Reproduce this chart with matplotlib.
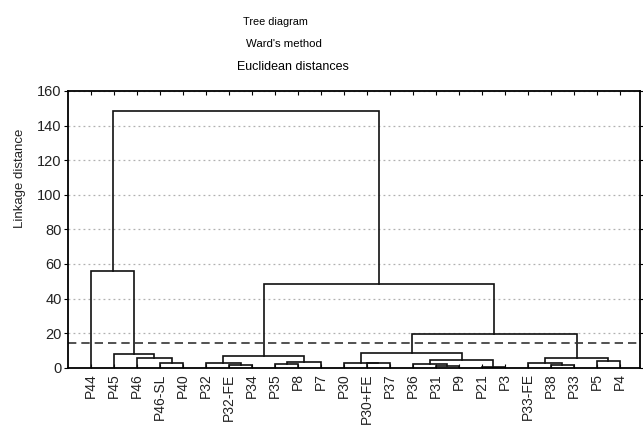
import matplotlib
matplotlib.use('Agg')
import matplotlib.pyplot as plt

plt.rcParams['font.family'] = ['Liberation Sans', 'DejaVu Sans']

# leaf labels in dendrogram order
labels = ['P44', 'P45', 'P46', 'P46-SL', 'P40', 'P32', 'P32-FE', 'P34', 'P35', 'P8',
          'P7', 'P30', 'P30+FE', 'P37', 'P36', 'P31', 'P9', 'P21', 'P3', 'P33-FE',
          'P38', 'P33', 'P5', 'P4']

# merges: ids >= 24 refer to earlier merges (24 = first row, ...)
merge_left = [17, 15, 6, 20, 8, 14, 5, 3, 12, 11, 19, 28, 22, 29, 2, 34, 30, 1, 33, 42, 0, 40, 44]
merge_right = [18, 16, 7, 21, 9, 25, 26, 4, 13, 32, 27, 10, 23, 24, 31, 36, 35, 38, 37, 39, 41, 43, 45]
merge_height = [0.4, 1.2, 1.4, 1.5, 2.0, 2.2, 2.5, 2.5, 2.8, 2.9, 2.9, 3.5, 3.9, 4.6, 5.4,
                5.4, 6.8, 7.7, 8.4, 19.6, 55.9, 48.4, 148.7]

cut_level = 14.5

fig = plt.figure(figsize=(6.43, 4.28), dpi=100)
ax = fig.add_axes([0.1058, 0.1409, 0.8895, 0.6465])

n = len(labels)
xpos = {i: i + 1 for i in range(n)}
ypos = {i: 0.0 for i in range(n)}
for k, (a, b, h) in enumerate(zip(merge_left, merge_right, merge_height)):
    node = n + k
    ax.plot([xpos[a], xpos[a], xpos[b], xpos[b]], [ypos[a], h, h, ypos[b]],
            color='#111111', lw=1.2, solid_joinstyle='miter')
    xpos[node] = (xpos[a] + xpos[b]) / 2
    ypos[node] = h

ax.axhline(cut_level, color='#333333', lw=1.2, ls=(0, (5, 3)))

ax.set_xlim(0, 24.87)
ax.set_ylim(0, 160)
ax.set_yticks(range(0, 161, 20))
ax.set_xticks(range(1, n + 1))
ax.set_xticklabels(labels, rotation=90, fontsize=10)
ax.tick_params(axis='y', labelsize=10.5, direction='out', length=3, right=True, pad=1.5,
               labelcolor='#222222')
ax.tick_params(axis='x', direction='in', length=3, top=True, pad=4, labelcolor='#222222')
for t in ax.get_xticklabels():
    t.set_va('top')
ax.grid(axis='y', color='#b0b0b0', lw=0.9, ls=(0, (1.5, 2.5)))
ax.set_axisbelow(True)
for s in ax.spines.values():
    s.set_linewidth(1.3)

fig.text(0.0311, 0.584, 'Linkage distance', rotation=90, ha='center', va='center',
         fontsize=9.5, color='#222222')
fig.text(0.429, 0.949, 'Tree diagram', ha='center', va='center', fontsize=7.8)
fig.text(0.442, 0.897, "Ward's method", ha='center', va='center', fontsize=8.2)
fig.text(0.456, 0.843, 'Euclidean distances', ha='center', va='center', fontsize=9)

plt.savefig('out.png', dpi=100)
